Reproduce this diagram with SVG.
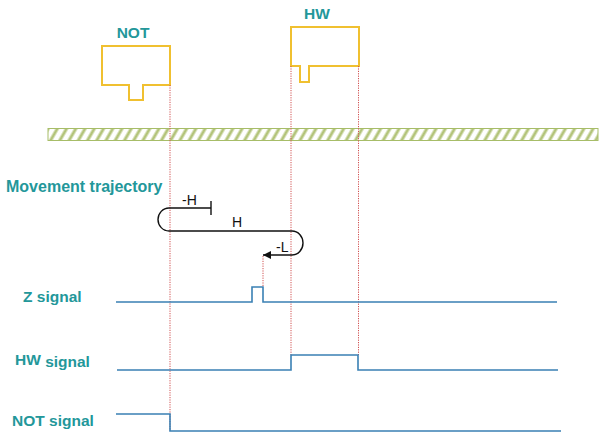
<svg xmlns="http://www.w3.org/2000/svg" width="600" height="445" viewBox="0 0 600 445">
<style>
.lbl{font-family:"Liberation Sans",Arial,sans-serif;font-weight:bold;fill:#23979a;font-size:15.5px}
.tr{font-family:"Liberation Sans",Arial,sans-serif;fill:#111;font-size:14px}
.box{fill:none;stroke:#f0c030;stroke-width:2}
.sig{fill:none;stroke:#3a80b4;stroke-width:1.6}
.dot{fill:none;stroke:#d05050;stroke-width:1;stroke-dasharray:1.2 1.2}
.traj{fill:none;stroke:#111;stroke-width:1.4}
</style>
<defs>
<pattern id="hatch" patternUnits="userSpaceOnUse" width="8" height="8" patternTransform="rotate(30)">
<rect width="8" height="8" fill="#fff"/>
<line x1="2" y1="0" x2="2" y2="8" stroke="#b3c47a" stroke-width="3"/>
</pattern>
<marker id="arr" viewBox="0 0 10 10" refX="10" refY="5" markerWidth="10" markerHeight="8" markerUnits="userSpaceOnUse" orient="auto">
<path d="M0,0 L10,5 L0,10 Z" fill="#111"/>
</marker>
</defs>
<rect id="ground" x="48" y="128.5" width="550" height="12" fill="url(#hatch)" stroke="#a7bd68" stroke-width="1"/>
<g id="not-switch">
<text class="lbl" x="133" y="38" text-anchor="middle">NOT</text>
<path class="box" d="M102,46 H170 V85 H143 V100 H129 V85 H102 Z"/>
</g>
<g id="hw-switch">
<text class="lbl" x="317" y="19" text-anchor="middle">HW</text>
<path class="box" d="M291,27 H359 V66 H309 V82 H300 V66 H291 Z"/>
</g>
<g id="guides">
<line class="dot" x1="170" y1="85" x2="170" y2="431"/>
<line class="dot" x1="291" y1="66" x2="291" y2="355"/>
<line class="dot" x1="358.5" y1="66" x2="358.5" y2="355"/>
<line class="dot" x1="263" y1="256" x2="263" y2="287"/>
</g>
<g id="trajectory">
<text class="lbl" x="6" y="192" font-size="16" style="font-size:16px">Movement trajectory</text>
<path class="traj" d="M211,208 H169 A11,11.5 0 0 0 169,231 H292 A11,12 0 0 1 292,255 H263" marker-end="url(#arr)"/>
<line class="traj" x1="211" y1="201" x2="211" y2="215"/>
<text class="tr" x="182" y="205">-H</text>
<text class="tr" x="232" y="227">H</text>
<text class="tr" x="276" y="252">-L</text>
</g>
<g id="z-signal">
<text class="lbl" x="23" y="302">Z signal</text>
<path class="sig" d="M116,302 H252 V287 H263 V302 H557"/>
</g>
<g id="hw-signal">
<text class="lbl" x="15" y="367"><tspan dy="-2">HW</tspan><tspan dy="2"> signal</tspan></text>
<path class="sig" d="M117,370 H291 V355 H358 V370 H558"/>
</g>
<g id="not-signal">
<text class="lbl" x="12" y="426">NOT signal</text>
<path class="sig" d="M116,414 H170 V431 H561"/>
</g>
</svg>
